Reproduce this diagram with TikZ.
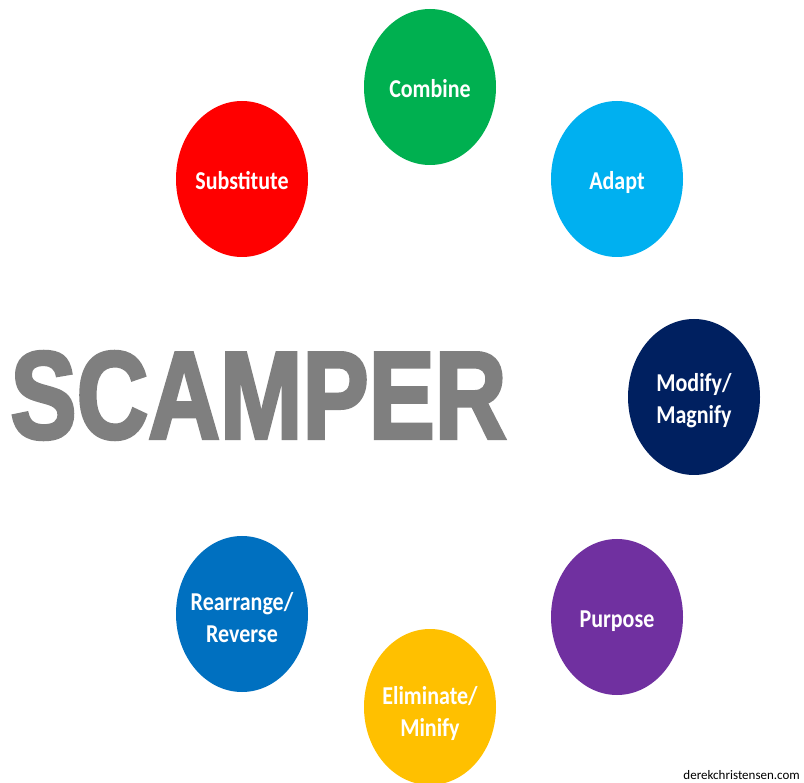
\documentclass[tikz,border=0pt]{standalone}
\usepackage{fontspec,graphicx}
\setmainfont{Carlito}
\newfontfamily\bigfont{Liberation Sans}[BoldFeatures={FakeBold=3}]
\usetikzlibrary{shapes.geometric}
\definecolor{scgreen}{HTML}{00B050}
\definecolor{scred}{HTML}{FF0000}
\definecolor{sccyan}{HTML}{00B0F0}
\definecolor{scnavy}{HTML}{002060}
\definecolor{scpurple}{HTML}{7030A0}
\definecolor{scyellow}{HTML}{FFC000}
\definecolor{scblue}{HTML}{0070C0}
\definecolor{scgray}{HTML}{7F7F7F}
\newcommand\tallword[1]{\scalebox{1}[1.17]{\begin{tabular}{@{}c@{}}#1\end{tabular}}}

\begin{document}
\begin{tikzpicture}[x=1pt,y=-1pt,
		idea/.style={ellipse,inner sep=0pt,minimum width=132pt,minimum height=156pt},
		ideatext/.style={inner sep=0pt,yshift=-4pt,text=white,font=\fontsize{22}{27}\selectfont\bfseries}]
	\clip (0,0) rectangle (804,783);
	\fill[white] (0,0) rectangle (804,783);

	\node[idea,fill=scgreen] (combine) at (430,87){};
	\node[idea,fill=scred] (substitute) at (242,179){};
	\node[idea,fill=sccyan] (adapt) at (617,179){};
	\node[idea,fill=scnavy] (modify) at (694,397){};
	\node[idea,fill=scpurple] (purpose) at (617,617){};
	\node[idea,fill=scyellow] (eliminate) at (430,707){};
	\node[idea,fill=scblue] (rearrange) at (242,614){};

	\node[ideatext] (combinetxt) at (combine){\tallword{Combine}};
	\node[ideatext] (substitutetxt) at (substitute){\tallword{Substitute}};
	\node[ideatext] (adapttxt) at (adapt){\tallword{Adapt}};
	\node[ideatext] (modifytxt) at (modify){\tallword{Modify/\\Magnify}};
	\node[ideatext] (purposetxt) at (purpose){\tallword{Purpose}};
	\node[ideatext] (eliminatetxt) at ([yshift=-3pt]eliminate.center){\tallword{Eliminate/\\Minify}};
	\node[ideatext] (rearrangetxt) at ([yshift=-2pt]rearrange.center){\tallword{Rearrange/\\Reverse}};

	\node[text=scgray,inner sep=0pt] (scamper) at (258.5,395.5)
		{\scalebox{0.8}[1]{\bigfont\bfseries\fontsize{124}{124}\selectfont SCAMPER}};

	\node[anchor=base east,inner sep=0pt,font=\fontsize{13}{13}\selectfont] (site) at (800,779){derekchristensen.com};
\end{tikzpicture}
\end{document}
